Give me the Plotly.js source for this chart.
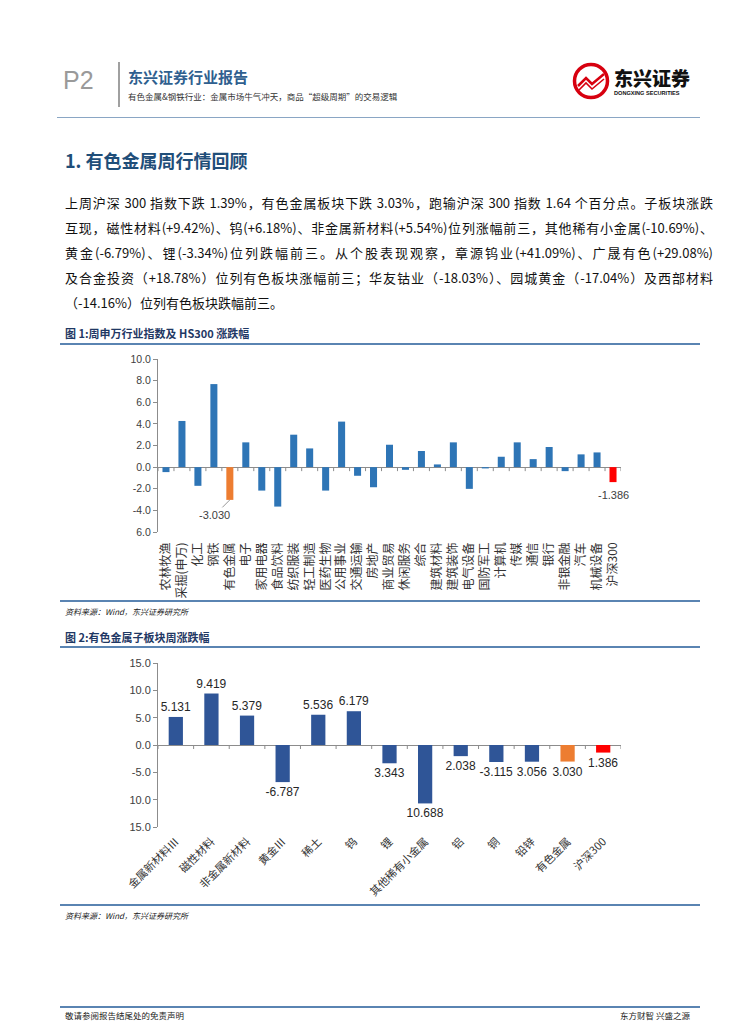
<!DOCTYPE html>
<html>
<head>
<meta charset="utf-8">
<script src="https://cdn.plot.ly/plotly-3.0.1.min.js"></script>
<style>
  html,body{margin:0;padding:0;background:#fff;}
  body{width:755px;height:1024px;position:relative;overflow:hidden;font-family:"Noto Sans CJK SC","Liberation Sans",sans-serif;color:#222;}
  .abs{position:absolute;white-space:nowrap;}
  .hl{position:absolute;height:2px;background:#5a84b2;}
  .para{position:absolute;left:65px;width:648px;font-size:13px;line-height:25px;height:25px;text-align:justify;text-align-last:justify;white-space:nowrap;color:#111;}
  .para.last{text-align-last:left;}
  .figt{position:absolute;left:65px;font-size:11px;font-weight:bold;color:#1f3864;line-height:14px;}
  .src{position:absolute;left:65px;font-size:8px;font-style:italic;color:#222;line-height:10px;}
  .chart{position:absolute;left:0;width:755px;}
</style>
</head>
<body>
<!-- header -->
<div class="abs" style="left:63px;top:66px;font-size:25px;line-height:28px;color:#9a9a9a;font-family:'Liberation Sans';">P2</div>
<div class="abs" style="left:118px;top:62px;width:1.5px;height:45px;background:#a0a0a0;"></div>
<div class="abs" style="left:128px;top:68px;font-size:15px;line-height:18px;font-weight:bold;color:#2f5f8f;">东兴证券行业报告</div>
<div class="abs" style="left:128px;top:91px;font-size:8.5px;line-height:10px;color:#333;">有色金属&amp;钢铁行业：金属市场牛气冲天，商品“超级周期”的交易逻辑</div>
<svg class="abs" style="left:570px;top:60px;" width="44" height="42" viewBox="0 0 44 42">
  <circle cx="21" cy="21" r="16.5" fill="none" stroke="#d7000f" stroke-width="3.5"/>
  <polyline points="8,26 16,18 22,24 34,14" fill="none" stroke="#d7000f" stroke-width="2.5"/>
  <polyline points="9,30 16,23 22,29 34,19" fill="none" stroke="#d7000f" stroke-width="1.6"/>
</svg>
<div class="abs" style="left:614px;top:67px;font-size:19px;line-height:22px;font-weight:900;color:#111;">东兴证券</div>
<div class="abs" style="left:614px;top:90px;font-size:5.6px;line-height:7px;font-weight:bold;color:#111;font-family:'Liberation Sans';">DONGXING SECURITIES</div>
<div class="abs" style="left:57px;top:117px;width:643px;height:1px;background:#8aa6c4;"></div>

<!-- section heading -->
<div class="abs" style="left:65px;top:148px;font-size:18px;line-height:24px;font-weight:bold;color:#1f4e79;">1. 有色金属周行情回顾</div>

<div class="para" style="top:190px;">上周沪深 300 指数下跌 1.39%，有色金属板块下跌 3.03%，跑输沪深 300 指数 1.64 个百分点。子板块涨跌</div>
<div class="para" style="top:215px;">互现，磁性材料(+9.42%)、钨(+6.18%)、非金属新材料(+5.54%)位列涨幅前三，其他稀有小金属(-10.69%)、</div>
<div class="para" style="top:240px;">黄金(-6.79%)、锂(-3.34%)位列跌幅前三。从个股表现观察，章源钨业(+41.09%)、广晟有色(+29.08%)</div>
<div class="para" style="top:265px;">及合金投资（+18.78%）位列有色板块涨幅前三；华友钴业（-18.03%）、园城黄金（-17.04%）及西部材料</div>
<div class="para last" style="top:290px;">（-14.16%）位列有色板块跌幅前三。</div>

<!-- figure 1 -->
<div class="figt" style="top:326px;">图 1:周申万行业指数及 HS300 涨跌幅</div>
<div class="hl" style="left:60px;top:343px;width:640px;"></div>
<div id="chart1" class="chart" style="top:345px;height:256px;"></div>
<div class="hl" style="left:60px;top:600px;width:640px;"></div>
<div class="src" style="top:607px;">资料来源：Wind，东兴证券研究所</div>

<!-- figure 2 -->
<div class="figt" style="top:630px;">图 2:有色金属子板块周涨跌幅</div>
<div class="hl" style="left:60px;top:646px;width:640px;"></div>
<div id="chart2" class="chart" style="top:648px;height:257px;"></div>
<div class="hl" style="left:60px;top:904px;width:640px;"></div>
<div class="src" style="top:911px;">资料来源：Wind，东兴证券研究所</div>

<!-- footer -->
<div class="hl" style="left:60px;top:1006px;width:640px;"></div>
<div class="abs" style="left:65px;top:1010px;font-size:8.5px;line-height:10px;color:#222;">敬请参阅报告结尾处的免责声明</div>
<div class="abs" style="right:65px;top:1010px;font-size:8.5px;line-height:10px;color:#222;">东方财智 兴盛之源</div>

<script>
// ---------- Figure 1 data ----------
const cats1 = ['农林牧渔','采掘(申万)','化工','钢铁','有色金属','电子','家用电器','食品饮料','纺织服装','轻工制造',
  '医药生物','公用事业','交通运输','房地产','商业贸易','休闲服务','综合','建筑材料','建筑装饰','电气设备',
  '国防军工','计算机','传媒','通信','银行','非银金融','汽车','机械设备','沪深300'];
const vals1 = [-0.46, 4.27, -1.73, 7.68, -3.03, 2.29, -2.17, -3.65, 3.00, 1.73,
  -2.17, 4.21, -0.80, -1.86, 2.07, -0.25, 1.49, 0.25, 2.29, -2.01,
  -0.12, 0.96, 2.29, 0.74, 1.86, -0.37, 1.18, 1.36, -1.386];
const yTickVals1 = [10, 8, 6, 4, 2, 0, -2, -4, -6];
const yTickText1 = ['10.0','8.0','6.0','4.0','2.0','0.0','-2.0','-4.0','6.0'];
const labelled1 = ['有色金属','沪深300'];

// ---------- Figure 2 data ----------
const cats2 = ['金属新材料Ⅲ','磁性材料','非金属新材料','黄金Ⅲ','稀土','钨','锂','其他稀有小金属','铝','铜','铅锌','有色金属','沪深300'];
const vals2 = [5.131, 9.419, 5.379, -6.787, 5.536, 6.179, -3.343, -10.688, -2.038, -3.115, -3.056, -3.030, -1.386];
const text2 = ['5.131','9.419','5.379','-6.787','5.536','6.179','3.343','10.688','2.038','-3.115','3.056','3.030','1.386'];
const yTickVals2 = [15, 10, 5, 0, -5, -10, -15];
const yTickText2 = ['15.0','10.0','5.0','0.0','-5.0','10.0','15.0'];

const BLUE1 = '#2e75b6', BLUE2 = '#2f5597', ORANGE = '#ed7d31', RED = '#ff0000';
const AX = '#8c8c8c';
const colorFor = (c, base) => c === '有色金属' ? ORANGE : (c === '沪深300' ? RED : base);

function boundaryTicks(n, len) {
  const s = [];
  for (let i = 0; i <= n; i++) {
    s.push({type:'line', xref:'x', yref:'y', ysizemode:'pixel', yanchor:0,
      x0:i-0.5, x1:i-0.5, y0:0, y1:-len, line:{color:AX, width:1}});
  }
  return s;
}

const cfg = {staticPlot:true, displayModeBar:false};

// ---------- Chart 1 ----------
const ann1 = labelled1.map(c => {
  const v = vals1[cats1.indexOf(c)];
  const isYs = c === '有色金属';
  return {x:c, y:v, xref:'x', yref:'y', text:v.toFixed(3),
    showarrow:isYs, arrowhead:0, arrowwidth:0.8, arrowcolor:'#7f7f7f',
    ax:isYs ? -15 : 0, ay:isYs ? 15 : 0, yanchor: isYs ? 'middle' : 'top', yshift: isYs ? 0 : -5,
    font:{size:11, color:'#404040', family:'Liberation Sans'}};
});

Plotly.newPlot('chart1', [{
  type:'bar', x:cats1, y:vals1,
  marker:{color:cats1.map(c => colorFor(c, BLUE1))},
  hoverinfo:'skip'
}], {
  width:755, height:256,
  margin:{l:158, r:134, t:14, b:69},
  paper_bgcolor:'rgba(0,0,0,0)', plot_bgcolor:'rgba(0,0,0,0)',
  showlegend:false, bargap:0.56,
  font:{family:'Liberation Sans, Noto Sans CJK SC', color:'#333'},
  xaxis:{type:'category', range:[-0.5, cats1.length-0.5], tickangle:-90, automargin:false,
    showline:false, ticks:'', showgrid:false, zeroline:false, ticklabelstandoff:7,
    tickfont:{size:12, family:'Noto Sans CJK SC', color:'#333'}},
  yaxis:{range:[-6,10], tickvals:yTickVals1, ticktext:yTickText1, automargin:false,
    showline:true, linecolor:AX, linewidth:1, ticks:'outside', ticklen:4, tickcolor:AX,
    showgrid:false, zeroline:true, zerolinecolor:AX, zerolinewidth:1,
    tickfont:{size:10.5, color:'#404040', family:'Liberation Sans'}},
  shapes:boundaryTicks(cats1.length, 4),
  annotations:ann1
}, cfg);

// ---------- Chart 2 ----------
Plotly.newPlot('chart2', [{
  type:'bar', x:cats2, y:vals2, text:text2, textposition:'outside', textangle:0,
  constraintext:'none', cliponaxis:false,
  textfont:{size:12, color:'#262626', family:'Liberation Sans'},
  marker:{color:cats2.map(c => colorFor(c, BLUE2))},
  hoverinfo:'skip'
}], {
  width:755, height:257,
  margin:{l:158, r:134, t:15, b:78},
  paper_bgcolor:'rgba(0,0,0,0)', plot_bgcolor:'rgba(0,0,0,0)',
  showlegend:false, bargap:0.6,
  font:{family:'Liberation Sans, Noto Sans CJK SC', color:'#333'},
  xaxis:{type:'category', range:[-0.5, cats2.length-0.5], tickangle:-45, automargin:false,
    showline:false, ticks:'', showgrid:false, zeroline:false, ticklabelstandoff:5,
    tickfont:{size:11, family:'Noto Sans CJK SC', color:'#333'}},
  yaxis:{range:[-15,15], tickvals:yTickVals2, ticktext:yTickText2, automargin:false,
    showline:true, linecolor:AX, linewidth:1, ticks:'outside', ticklen:4, tickcolor:AX,
    showgrid:false, zeroline:true, zerolinecolor:AX, zerolinewidth:1,
    tickfont:{size:11, color:'#404040', family:'Liberation Sans'}},
  shapes:boundaryTicks(cats2.length, 4)
}, cfg);
</script>
</body>
</html>
